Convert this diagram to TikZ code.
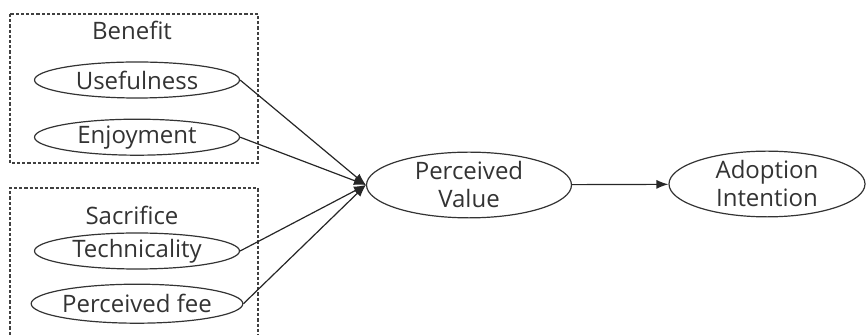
\documentclass[tikz,border=0pt]{standalone}
\usepackage{fontspec}
\setsansfont{Open Sans}
\usepackage{tikz}
\usetikzlibrary{shapes,arrows.meta,positioning,calc}

\begin{document}
\begin{tikzpicture}[
      x=0.5pt,y=-0.5pt,
      font=\sffamily\fontsize{12}{14}\selectfont,
      construct/.style={
        ellipse,
        draw=black!80,
        line width=0.6pt,
        text=black!80,
        inner sep=0pt,
        minimum width=102.5pt,
        minimum height=18pt,
        align=center
      },
      groupbox/.style={draw=black!75,line width=0.6pt,dash pattern=on 1.6pt off 1pt},
      grouplabel/.style={text=black!80},
      arrow/.style={-{Latex[length=6pt,width=4.5pt]},line width=0.6pt,draw=black!85}
    ]
    \useasboundingbox (0,0) rectangle (866,335);

    % Benefit group
    \draw[groupbox] (10,14) rectangle (258,163);
    \node[grouplabel] (benefit) at (132,30) {Benefit};
    \node[construct] (useful) at (137,80) {Usefulness};
    \node[construct,below=10pt of useful] (enjoy) {Enjoyment};

    % Sacrifice group (bottom edge runs off the page)
    \draw[groupbox] (10,340) -- (10,188) -- (258,188) -- (258,340);
    \node[grouplabel] (sacrifice) at (132,215) {Sacrifice};
    \node[construct] (tech) at (137,251) {Technicality};
    \node[construct,minimum height=19.5pt,below=7pt of tech] (fee) {Perceived fee};

    % Value and intention
    \node[construct,minimum height=32.5pt] (value) at (469,185) {Perceived\\Value};
    \node[construct,minimum width=98pt,minimum height=31pt] (adopt) at (767,184) {Adoption\\Intention};

    \draw[arrow] (useful.east) to (value.west);
    \draw[arrow] (enjoy.east) to (value.west);
    \draw[arrow] (tech.east) to (value.west);
    \draw[arrow] (fee.east) to (value.west);
    \draw[arrow] (value) to (adopt);
  \end{tikzpicture}
\end{document}
